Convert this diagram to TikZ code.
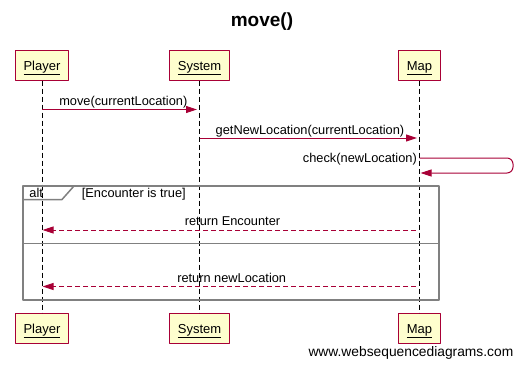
\documentclass[tikz,border=0pt]{standalone}
\usepackage{fontspec}
\setmainfont{Liberation Sans}
\usetikzlibrary{arrows.meta}
\definecolor{boxfill}{HTML}{FEFECE}
\definecolor{seqred}{HTML}{A80036}
\definecolor{framegray}{HTML}{808080}
\tikzset{
	actor/.style    = {draw=seqred, fill=boxfill, line width=1pt, rectangle,
		minimum height = 30pt,
		inner xsep = 8.5pt,
		text height = 12.5pt, text depth = 1.5pt,   %<--keeps the underlined name low in the box
		font = \fontsize{13}{15}\selectfont},
	lifeline/.style = {line width=1pt, dash pattern=on 5pt off 3pt},
	msg/.style      = {draw=seqred, line width=1pt, -{Triangle[length=11pt,width=7pt]}},
	reply/.style    = {msg, dash pattern=on 5pt off 3pt},
	lbl/.style      = {anchor=base, inner sep=0pt, font=\fontsize{12.8}{15}\selectfont},
}

\begin{document}
\begin{tikzpicture}[ x=1pt,                  %<--one unit is one pixel
					y=-1pt,                    %<--y runs downwards
					line join=round ]

	\useasboundingbox (0,0) rectangle (523,367);

	\draw%-----------------------------------------------------------------------------------------
	%Drawing the title:
	node(title) at (262,22) [font=\fontsize{19}{22}\selectfont\bfseries] {move()}
	%Drawing the Participants (top and bottom):
	node(playerT) at (42,65) [actor] {\underline{Player}}
	node(systemT) at (199.5,65) [actor] {\underline{System}}
	node(mapT) at (419.5,65) [actor] {\underline{Map}}
	node(playerB) at (42,328) [actor] {\underline{Player}}
	node(systemB) at (199.5,328) [actor] {\underline{System}}
	node(mapB) at (419.5,328) [actor] {\underline{Map}}
	%Drawing the Message end points:
	node[shape=coordinate][](moveA) at (42,109.5){}
	node[shape=coordinate][](moveB) at (197,109.5){}
	node[shape=coordinate][](getA) at (199.5,138){}
	node[shape=coordinate][](getB) at (417,138){}
	node[shape=coordinate][](checkA) at (419.5,158){}
	node[shape=coordinate][](checkB) at (513,158){}
	node[shape=coordinate][](checkC) at (513,173){}
	node[shape=coordinate][](checkD) at (420.5,173){}
	node[shape=coordinate][](encA) at (416,230){}
	node[shape=coordinate][](encB) at (42.5,230){}
	node[shape=coordinate][](locA) at (416,286.5){}
	node[shape=coordinate][](locB) at (42.5,286.5){}
	%Drawing the alt Frame corners:
	node[shape=coordinate][](altNW) at (23,186){}
	node[shape=coordinate][](altSE) at (439,300){}
	node[shape=coordinate][](tabA) at (23,199.5){}
	node[shape=coordinate][](tabB) at (62,199.5){}
	node[shape=coordinate][](tabC) at (74,186){}
	node[shape=coordinate][](elseA) at (23,243){}
	node[shape=coordinate][](elseB) at (439,243){}
	;%---------------------------------------------------------------------------------------------

	%Lifelines
	\draw[lifeline] (playerT) -- (playerB);
	\draw[lifeline] (systemT) -- (systemB);
	\draw[lifeline] (mapT) -- (mapB);

	%alt Frame
	\draw[framegray, line width=2pt] (altNW) rectangle (altSE);
	\draw[framegray, line width=1.5pt] (tabA) -- (tabB) -- (tabC);
	\draw[framegray, line width=1pt] (elseA) -- (elseB);
	\node(alt) at (29.3,197.3) [lbl, anchor=base west] {alt};
	\node(guard) at (81.7,197.3) [lbl, anchor=base west] {[Encounter is true]};

	%Joining the Lifelines
	\draw[msg] (moveA) -- (moveB);
	\node(moveL) at (123.3,105) [lbl] {move(currentLocation)};
	\draw[msg] (getA) -- (getB);
	\node(getL) at (310,134) [lbl] {getNewLocation(currentLocation)};
	\draw[msg, rounded corners=6pt] (checkA) -- (checkB) -- (checkC) -- (checkD);
	\node(checkL) at (417,162) [lbl, anchor=base east] {check(newLocation)};
	\draw[reply] (encA) -- (encB);
	\node(encL) at (232.5,225.5) [lbl] {return Encounter};
	\draw[reply] (locA) -- (locB);
	\node(locL) at (231.7,282.5) [lbl] {return newLocation};

	%Drawing the footer
	\node(wsd) at (513.5,356) [lbl, anchor=base east, font=\fontsize{13.8}{16}\selectfont] {www.websequencediagrams.com};

\end{tikzpicture}
\end{document}
